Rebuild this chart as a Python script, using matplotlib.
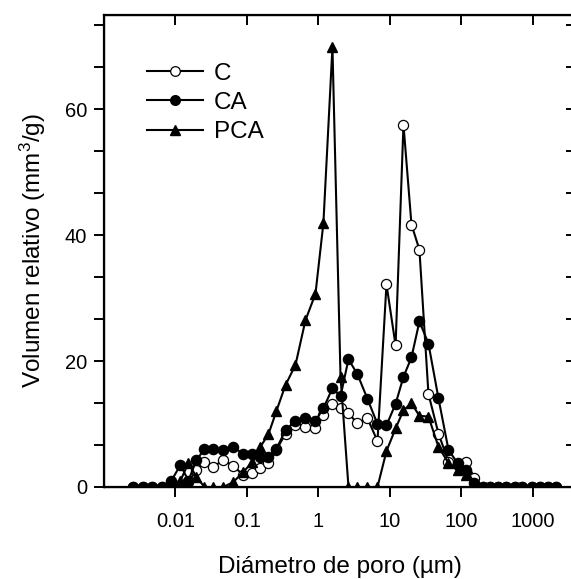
import matplotlib
matplotlib.use('Agg')

import matplotlib.pyplot as plt
from matplotlib.ticker import MultipleLocator, NullLocator, NullFormatter

plt.rcParams['font.family'] = ['Liberation Sans', 'DejaVu Sans']
plt.rcParams['mathtext.default'] = 'regular'

# pore diameter (um), shared by the three samples
diameter = [0.00258, 0.00356, 0.00476, 0.00658, 0.00879, 0.01175, 0.0152, 0.0197,
            0.0255, 0.0340, 0.0470, 0.0649, 0.0895, 0.120, 0.155, 0.201,
            0.260, 0.348, 0.480, 0.662, 0.914, 1.18, 1.58, 2.05,
            2.65, 3.54, 4.89, 6.75, 9.02, 12.1, 15.6, 20.2,
            26.1, 34.9, 48.2, 66.6, 89.1, 119, 154, 200,
            250, 324, 432, 560, 724, 968, 1253, 1622, 2099]

# relative volume (mm3/g)
vol_C = [0, 0, 0, 0, 0, 0.3, 0.8, 2.7,
         4.0, 3.2, 4.3, 3.3, 1.9, 2.2, 3.0, 3.8,
         5.9, 8.5, 9.8, 9.6, 9.3, 11.4, 13.2, 12.5,
         11.7, 10.1, 10.9, 7.3, 32.2, 22.5, 57.6, 41.7,
         37.7, 14.8, 8.5, 4.0, 3.5, 4.0, 1.4, 0,
         0, 0, 0, 0, 0, 0, 0, 0, 0]
vol_CA = [0, 0, 0, 0, 1.0, 3.5, 1.0, 4.3,
          6.0, 6.0, 5.8, 6.4, 5.2, 5.2, 4.8, 4.8,
          6.1, 9.0, 10.5, 10.9, 10.5, 12.5, 15.7, 14.4,
          20.3, 17.9, 14.0, 10.0, 9.8, 13.2, 17.5, 20.6,
          26.3, 22.8, 14.1, 5.9, 3.8, 2.7, 0.6, 0,
          0, 0, 0, 0, 0, 0, 0, 0, 0]
vol_PCA = [0, 0, 0, 0, 0, 1.0, 3.8, 1.6,
           0, 0, 0, 0.8, 2.4, 4.0, 6.4, 8.4,
           12.1, 16.2, 19.4, 26.5, 30.7, 41.9, 69.9, 17.5,
           0, 0, 0, 0, 5.7, 9.3, 12.2, 13.3,
           11.3, 11.2, 6.4, 3.8, 2.7, 1.9, 0.5, 0,
           0, 0, 0, 0, 0, 0, 0, 0, 0]

xticks = [0.01, 0.1, 1, 10, 100, 1000]
xticklabels = ['0.01', '0.1', '1', '10', '100', '1000']
yticks = [0, 20, 40, 60]

fig = plt.figure(figsize=(5.71, 5.79), dpi=100)
ax = fig.add_axes([104 / 571, 92 / 579, 472 / 571, 472 / 579])

ms = 7.3
ax.plot(diameter, vol_C, '-o', color='black', mfc='white', mec='black', mew=0.9,
        ms=ms, lw=1.5, label='C')
ax.plot(diameter, vol_CA, '-o', color='black', mfc='black', ms=ms, lw=1.5, label='CA')
ax.plot(diameter, vol_PCA, '-^', color='black', mfc='black', ms=ms, lw=1.5, label='PCA')

ax.set_xscale('log')
ax.set_xlim(0.001, 4064)
ax.set_ylim(0, 75)

ax.set_xticks(xticks)
ax.set_xticklabels(xticklabels)
ax.xaxis.set_minor_locator(NullLocator())
ax.set_yticks(yticks)
ax.yaxis.set_minor_locator(MultipleLocator(20 / 3))
ax.tick_params(axis='both', which='both', direction='out', length=7, width=1.4,
               labelsize=14.5, pad=5)
ax.tick_params(axis='x', pad=11)

for s in ax.spines.values():
    s.set_linewidth(1.6)

# mirrored ticks pointing inwards on top and right
top = ax.twiny()
top.set_xscale('log')
top.set_xlim(ax.get_xlim())
top.set_xticks(xticks)
top.xaxis.set_minor_locator(NullLocator())
top.xaxis.set_major_formatter(NullFormatter())
top.tick_params(axis='x', direction='in', length=7, width=1.4)

right = ax.twinx()
right.set_ylim(ax.get_ylim())
right.set_yticks(yticks)
right.yaxis.set_minor_locator(MultipleLocator(20 / 3))
right.yaxis.set_major_formatter(NullFormatter())
right.tick_params(axis='y', which='both', direction='in', length=7, width=1.4)

ax.set_xlabel('Diámetro de poro (µm)', fontsize=17.5, labelpad=18)
ax.set_ylabel('Volumen relativo (mm$^3$/g)', fontsize=17.5, labelpad=12)

ax.legend(loc='upper left', bbox_to_anchor=(0.065, 0.925), frameon=False,
          fontsize=17.5, handlelength=2.3, handletextpad=0.45, labelspacing=0.3,
          markerscale=0.95, borderpad=0)

fig.savefig('out.png', dpi=100)
plt.close(fig)
